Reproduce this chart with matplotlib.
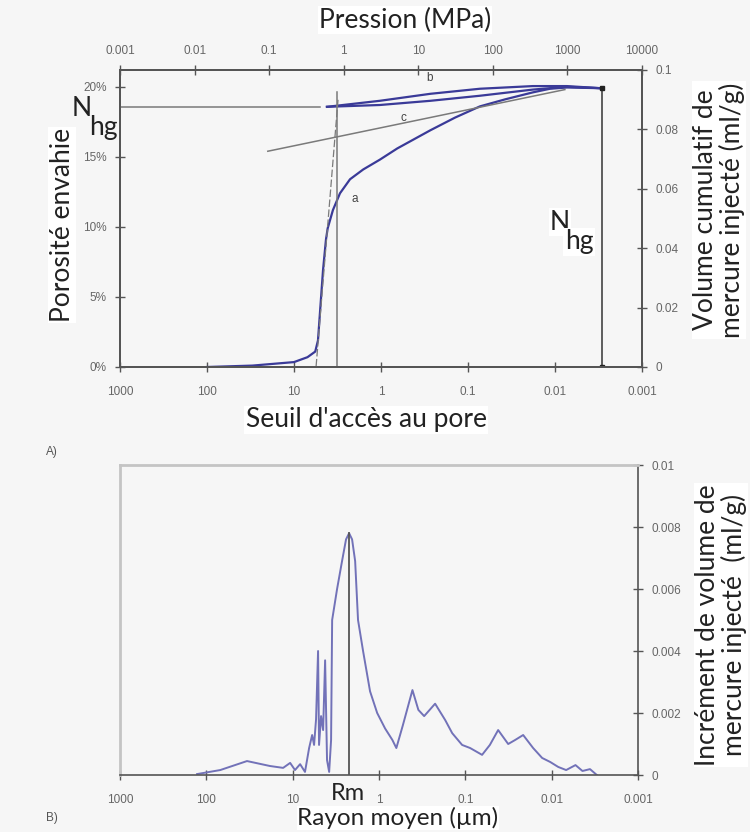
import numpy as np
import matplotlib
matplotlib.use("Agg")
import matplotlib.pyplot as plt
from matplotlib.ticker import FixedLocator, NullLocator

# --- data ---
# A) mercury injection curve: pore throat radius (um) vs invaded porosity (%)
inj_r = [100, 30, 10, 7, 5.7, 5.3, 5.0, 4.64, 4.29, 4.1, 3.57, 2.96, 2.27, 1.6, 1.03, 0.65,
         0.27, 0.141, 0.073, 0.0376, 0.018, 0.0114, 0.0073, 0.003]
inj_p = [0, 0.1, 0.35, 0.7, 1.1, 1.9, 4.1, 6.9, 9.1, 9.9, 11.2, 12.4, 13.4, 14.1, 14.8, 15.6,
         16.9, 17.8, 18.6, 19.1, 19.6, 19.86, 19.95, 19.9]
# withdrawal (b) and re-injection
wd_r = [0.003, 0.0073, 0.018, 0.073, 0.27, 1.03, 4.18]
wd_p = [19.9, 20.05, 20.05, 19.86, 19.5, 19.0, 18.57]
re_r = [4.18, 1.03, 0.27, 0.073, 0.018, 0.0073, 0.003]
re_p = [18.57, 18.7, 19.0, 19.36, 19.8, 20.0, 19.9]
# tangent c
c_r = [20, 0.0077]
c_p = [15.4, 19.8]
# construction lines
nhg_p = 18.57
nhg_r_end = 5.0
thr_r = 3.2
thr_top = 19.6
tan_r = [3.12, 5.58]
tan_p = [19.07, 0]
end_r = 0.0029
end_p = 19.9

# B) increment of injected volume vs mean radius
inc_r = [128, 69, 33.8, 18.3, 12.9, 10.7, 9.4, 8.2, 7.2, 6.45, 5.95, 5.65, 5.36, 5.08, 4.95,
         4.69, 4.44, 4.21, 4.0, 3.78, 3.59, 3.49, 3.06, 2.68, 2.41, 2.22, 2.05, 1.89, 1.75,
         1.53, 1.27, 1.05, 0.85, 0.70, 0.63, 0.53, 0.41, 0.35, 0.30, 0.224, 0.171, 0.142,
         0.109, 0.088, 0.064, 0.052, 0.0417, 0.0319, 0.0265, 0.0214, 0.0164, 0.0129, 0.0104,
         0.0084, 0.0068, 0.0053, 0.0044, 0.0036, 0.0030]
inc_v = [0.00003, 0.00016, 0.00045, 0.00029, 0.00023, 0.00039, 0.00016, 0.00035, 0.0001,
         0.00087, 0.00129, 0.00097, 0.0018, 0.004, 0.00097, 0.0019, 0.00145, 0.0037, 0.00048,
         0.0001, 0.00113, 0.005, 0.006, 0.0069, 0.0076, 0.0078, 0.0076, 0.0069, 0.005,
         0.004, 0.0027, 0.002, 0.0015, 0.00113, 0.00087, 0.0016, 0.00274, 0.0021, 0.0019,
         0.0023, 0.00177, 0.00135, 0.00097, 0.00087, 0.00065, 0.00097, 0.00145, 0.001,
         0.00113, 0.00129, 0.00087, 0.00055, 0.00042, 0.00026, 0.00016, 0.00032, 0.00013,
         0.00019, 0]
rm_r = 2.22
rm_v = 0.0078

r_ticks = [1000, 100, 10, 1, 0.1, 0.01, 0.001]
r_labels = ["1000", "100", "10", "1", "0.1", "0.01", "0.001"]
p_ticks = [0.001, 0.01, 0.1, 1, 10, 100, 1000, 10000]
p_labels = ["0.001", "0.01", "0.1", "1", "10", "100", "1000", "10000"]
por_ticks = [0, 5, 10, 15, 20]
por_labels = ["0%", "5%", "10%", "15%", "20%"]
vol_ticks = [0, 0.02, 0.04, 0.06, 0.08, 0.1]
vol_labels = ["0", "0.02", "0.04", "0.06", "0.08", "0.1"]
inc_ticks = [0, 0.002, 0.004, 0.006, 0.008, 0.01]
inc_labels = ["0", "0.002", "0.004", "0.006", "0.008", "0.01"]

BG = "#f6f6f6"
BLUE = "#3a3a98"
LBLUE = "#7272b8"
GREY = "#7a7a7a"
AX = "#555555"
LBL = dict(family="Lato", fontsize=19, color="#222222")
TCK = dict(labelsize=8.5, labelcolor="#666666", colors=AX, direction="inout", length=7, width=1, pad=6)
plt.rcParams["font.family"] = ["Liberation Sans", "DejaVu Sans"]

fig = plt.figure(figsize=(7.5, 8.32), dpi=100, facecolor=BG)

# ---------------- A ----------------
ax = fig.add_axes([0.16, 0.5589, 0.696, 0.357], facecolor=BG)
ax.set_xscale("log")
ax.set_xlim(1000, 0.001)
ax.set_ylim(0, 21.2)
ax.plot(inj_r, inj_p, color=BLUE, lw=1.6)
ax.plot(wd_r, wd_p, color=BLUE, lw=1.6)
ax.plot(re_r, re_p, color=BLUE, lw=1.6)
ax.plot(c_r, c_p, color=GREY, lw=1.1)
ax.plot([1000, nhg_r_end], [nhg_p, nhg_p], color=GREY, lw=1.1)
ax.plot([thr_r, thr_r], [0, thr_top], color=GREY, lw=1.1)
ax.plot(tan_r, tan_p, color=GREY, lw=0.9, ls=(0, (6, 2)))
ax.plot([end_r, end_r], [0, end_p], color="#444444", lw=1.2)
ax.plot([end_r, end_r], [0, end_p], ls="none", marker="s", ms=3.5, color="#222222")
ax.text(2.0, 12.0, "a", fontsize=8.5, color="#444444", ha="center", va="center")
ax.text(0.28, 20.6, "b", fontsize=8.5, color="#444444", ha="center", va="center")
ax.text(0.55, 17.8, "c", fontsize=8.5, color="#444444", ha="center", va="center")

ax.xaxis.set_major_locator(FixedLocator(r_ticks))
ax.set_xticklabels(r_labels)
ax.xaxis.set_minor_locator(NullLocator())
ax.yaxis.set_major_locator(FixedLocator(por_ticks))
ax.set_yticklabels(por_labels)
ax.tick_params(**TCK)
ax.tick_params(axis="x", pad=10)
for s in ax.spines.values():
    s.set_color(AX)
    s.set_linewidth(1.2)

axt = ax.twiny()
axt.set_xscale("log")
axt.set_xlim(0.001, 10000)
axt.xaxis.set_major_locator(FixedLocator(p_ticks))
axt.set_xticklabels(p_labels)
axt.xaxis.set_minor_locator(NullLocator())
axt.tick_params(**TCK)

axr = ax.twinx()
axr.set_ylim(0, 0.1)
axr.yaxis.set_major_locator(FixedLocator(vol_ticks))
axr.set_yticklabels(vol_labels)
axr.tick_params(**TCK)
for a in (axt, axr):
    for s in a.spines.values():
        s.set_color(AX)
        s.set_linewidth(1.2)

box = dict(facecolor="white", edgecolor="none", pad=1)
fig.text(405 / 750, 1 - 20 / 832, "Pression (MPa)", ha="center", va="center", bbox=box, **LBL)
fig.text(366 / 750, 1 - 420 / 832, "Seuil d'accès au pore", ha="center", va="center", bbox=box, **LBL)
fig.text(62 / 750, 1 - 225 / 832, "Porosité envahie", ha="center", va="center", rotation=90, bbox=box, **LBL)
fig.text(719 / 750, 1 - 210 / 832, "Volume cumulatif de\nmercure injecté (ml/g)", ha="center", va="center",
         rotation=90, linespacing=1.0, bbox=box, **LBL)
NB = dict(family="Lato", fontsize=19, color="#222222", ha="center", va="center")
fig.text(82 / 750, 1 - 109 / 832, "N", **NB)
fig.text(103 / 750, 1 - 128 / 832, "hg", **NB)
fig.text(560 / 750, 1 - 222 / 832, "N", bbox=box, **NB)
fig.text(579 / 750, 1 - 242 / 832, "hg", bbox=box, **NB)
fig.text(52 / 750, 1 - 452 / 832, "A)", fontsize=8.5, color="#555555", ha="center", va="center")

# ---------------- B ----------------
bx = fig.add_axes([0.16, 0.0685, 0.6907, 0.3726], facecolor=BG)
bx.set_xscale("log")
bx.set_xlim(1000, 0.001)
bx.set_ylim(0, 0.01)
bx.plot(inc_r, inc_v, color=LBLUE, lw=1.4)
bx.plot([rm_r, rm_r], [0, rm_v], color="#555555", lw=1.3)
bx.xaxis.set_major_locator(FixedLocator(r_ticks))
bx.set_xticklabels(r_labels)
bx.xaxis.set_minor_locator(NullLocator())
bx.yaxis.tick_right()
bx.yaxis.set_major_locator(FixedLocator(inc_ticks))
bx.set_yticklabels(inc_labels)
bx.tick_params(**TCK)
bx.tick_params(axis="x", pad=10)
bx.spines["left"].set_color("#c4c4c4")
bx.spines["top"].set_color("#c4c4c4")
bx.spines["left"].set_linewidth(2)
bx.spines["top"].set_linewidth(2)
bx.spines["bottom"].set_color(AX)
bx.spines["right"].set_color(AX)
bx.spines["bottom"].set_linewidth(1.2)
bx.spines["right"].set_linewidth(1.2)

fig.text(348 / 750, 1 - 793 / 832, "Rm", ha="center", va="center", family="Lato", fontsize=17, color="#222222")
fig.text(398 / 750, 1 - 818 / 832, "Rayon moyen (µm)", ha="center", va="center", family="Lato", fontsize=17.5,
         color="#222222", bbox=dict(facecolor="white", edgecolor="none", pad=0.3))
fig.text(721 / 750, 1 - 625 / 832, "Incrément de volume de\nmercure injecté  (ml/g)", ha="center", va="center",
         rotation=90, linespacing=1.0, bbox=box, **LBL)
fig.text(52 / 750, 1 - 818 / 832, "B)", fontsize=8.5, color="#555555", ha="center", va="center")

fig.savefig("out.png", dpi=100, facecolor=BG)
